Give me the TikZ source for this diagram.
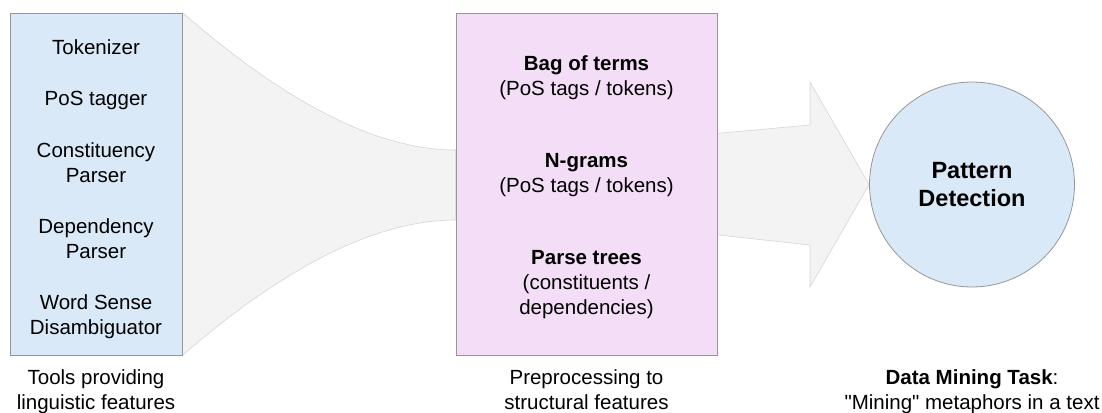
\documentclass[tikz,border=0pt]{standalone}
\usepackage{fontspec}
\setmainfont{Liberation Sans}
\usetikzlibrary{positioning, backgrounds}
\definecolor{toolblue}{RGB}{218,233,247}
\definecolor{prepink}{RGB}{244,221,246}
\definecolor{flowgrey}{RGB}{243,243,243}
\definecolor{flowline}{RGB}{214,214,214}
\definecolor{boxline}{RGB}{150,150,150}

\begin{document}
\begin{tikzpicture}[x=1pt, y=-1pt]

	\tikzstyle{txt}=[font=\fontsize{20.5}{25}\selectfont, align=center, inner sep=0pt]
	\tikzstyle{box}=[rectangle, draw=boxline, line width=0.8pt, txt]
	\tikzstyle{tools}=[box, fill=toolblue, minimum width=172pt, minimum height=342pt]
	\tikzstyle{prep}=[box, fill=prepink, minimum width=261pt, minimum height=342pt]
	\tikzstyle{task}=[circle, draw=boxline, line width=0.8pt, fill=toolblue, minimum size=205pt, inner sep=0pt, align=center, font=\fontsize{23.5}{28}\selectfont\bfseries]
	\tikzstyle{flow}=[fill=flowgrey, draw=flowline, line width=0.6pt]

	\useasboundingbox (0,0) rectangle (1102,412);

	\node at (96,184) (tools) [tools, label={[txt, yshift=-5.5pt]center:{Tokenizer\\[26pt]PoS tagger\\[27pt]Constituency\\Parser\\[26pt]Dependency\\Parser\\[26pt]Word Sense\\Disambiguator}}] {};
	\node at (586.5,184) (prep) [prep, label={[txt, yshift=-3pt]center:{\textbf{Bag of terms}\\(PoS tags / tokens)\\[47pt]\textbf{N-grams}\\(PoS tags / tokens)\\[47pt]\textbf{Parse trees}\\(constituents /\\dependencies)}}] {};
	\node at (972,184.5) (detect) [task] {Pattern\\Detection};

	% grey flows behind the boxes
	\begin{pgfonlayer}{background}
		\draw[flow] (tools.north east) .. controls (260,80) and (360,150) .. (prep.west |- 0,150) -- (prep.west |- 0,220) .. controls (360,220) and (260,288) .. (tools.south east) -- cycle;
		\draw[flow] (700,135) -- (810,125) -- (810,82) -- (detect.west) -- (810,287) -- (810,245) -- (700,233) -- cycle;
	\end{pgfonlayer}

	\node[txt, below=14pt of tools] (toolslabel) {Tools providing\\linguistic features};
	\node[txt, below=14pt of prep] (preplabel) {Preprocessing to\\structural features};
	\node[txt, below=82pt of detect] (tasklabel) {\textbf{Data Mining Task}:\\\textquotedbl Mining\textquotedbl{} metaphors in a text};

\end{tikzpicture}
\end{document}
